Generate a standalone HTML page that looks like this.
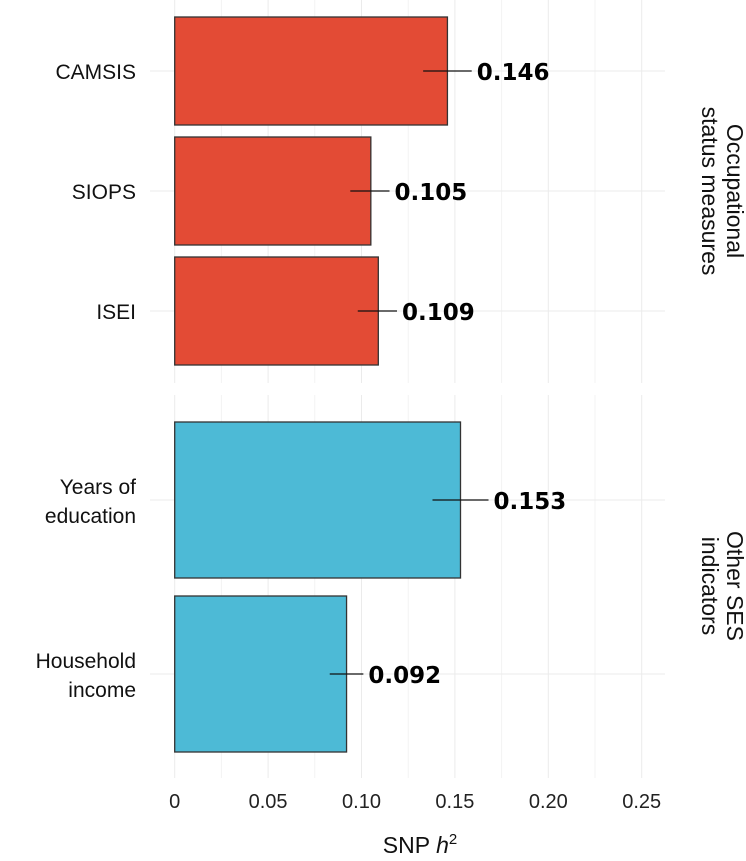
<!DOCTYPE html>
<html><head><meta charset="utf-8"><style>
html,body{margin:0;padding:0;background:#fff;}
svg{display:block;font-family:"Liberation Sans",sans-serif;}
</style></head><body>
<svg id="chart" width="746" height="861" viewBox="0 0 746 861" xmlns="http://www.w3.org/2000/svg">
<g id="grid"></g>
<g id="bars"></g>
<g id="labels"></g>
<text x="420" y="853" text-anchor="middle" font-size="23" fill="#111">SNP <tspan font-style="italic">h</tspan><tspan font-size="15" dy="-9">2</tspan></text>
<text transform="translate(716,191) rotate(90)" text-anchor="middle" font-size="23" fill="#111"><tspan x="0" dy="-11">Occupational</tspan><tspan x="0" dy="25">status measures</tspan></text>
<text transform="translate(716,586) rotate(90)" text-anchor="middle" font-size="23" fill="#111"><tspan x="0" dy="-11">Other SES</tspan><tspan x="0" dy="25">indicators</tspan></text>
</svg>
<script>
const categories = ["CAMSIS","SIOPS","ISEI","Years of education","Household income"];
const values = [0.146,0.105,0.109,0.153,0.092];
const lowerCI = [0.133,0.094,0.098,0.138,0.083];
const upperCI = [0.159,0.115,0.119,0.168,0.101];
const groups = [0,0,0,1,1];
const tickValues = [0,0.05,0.10,0.15,0.20,0.25];
const tickLabels = ["0","0.05","0.10","0.15","0.20","0.25"];

const NS="http://www.w3.org/2000/svg";
const x0=174.7, pxPerUnit=1868;
function xs(v){return x0+v*pxPerUnit;}
const panels=[{top:0,bottom:383,n:3,step:120,first:71,bh:108},{top:395,bottom:778,n:2,step:174,first:500,bh:156}];
const colors=["#E34B35","#4DBAD6"];
function mk(tag,attrs,parent){const e=document.createElementNS(NS,tag);for(const k in attrs)e.setAttribute(k,attrs[k]);parent.appendChild(e);return e;}
const grid=document.getElementById('grid'),bars=document.getElementById('bars'),labels=document.getElementById('labels');
panels.forEach((p,pi)=>{
  for(let i=0;i<tickValues.length*2-1;i++){
    const v=i*0.025;
    const gl=mk('line',{x1:xs(v),x2:xs(v),y1:p.top,y2:p.bottom,stroke:i%2?'#f3f3f3':'#ebebeb','stroke-width':1},grid);
    
    
  }
  for(let i=0;i<p.n;i++){
    const y=p.first+i*p.step;
    const hl=mk('line',{x1:150,x2:665,y1:y,y2:y,stroke:'#ebebeb','stroke-width':1},grid);
    
    
  }
});
let counters=[0,0];
categories.forEach((c,i)=>{
  const p=panels[groups[i]];const k=counters[groups[i]]++;
  const yc=p.first+k*p.step;
  const r=mk('rect',{x:xs(0),y:yc-p.bh/2,width:xs(values[i])-xs(0),height:p.bh,fill:colors[groups[i]],stroke:'#333','stroke-width':1.3},bars);
  
  
  const eb=mk('line',{x1:xs(lowerCI[i]),x2:xs(upperCI[i]),y1:yc,y2:yc,stroke:'#111','stroke-width':1.3},bars);
  
  
  const vl=mk('text',{x:xs(upperCI[i])+5,y:yc+9,'font-size':23,'font-weight':'bold','font-family':'"DejaVu Sans",sans-serif',fill:'#000'},labels);
  vl.textContent=values[i].toFixed(3);
  
  
  const yl=mk('text',{x:136,y:yc+8,'text-anchor':'end','font-size':21,fill:'#111'},labels);
  
  
  const words=c==="Years of education"?["Years of","education"]:c==="Household income"?["Household","income"]:[c];
  if(words.length===1){yl.textContent=c;}
  else{words.forEach((w,j)=>{const t=mk('tspan',{x:136,dy:j===0?-14:29},yl);t.textContent=w;});}
});
tickValues.forEach((v,i)=>{
  const t=mk('text',{x:xs(v),y:808,'text-anchor':'middle','font-size':20,fill:'#222'},labels);
  t.textContent=tickLabels[i];
  
  
});
</script>
</body></html>
